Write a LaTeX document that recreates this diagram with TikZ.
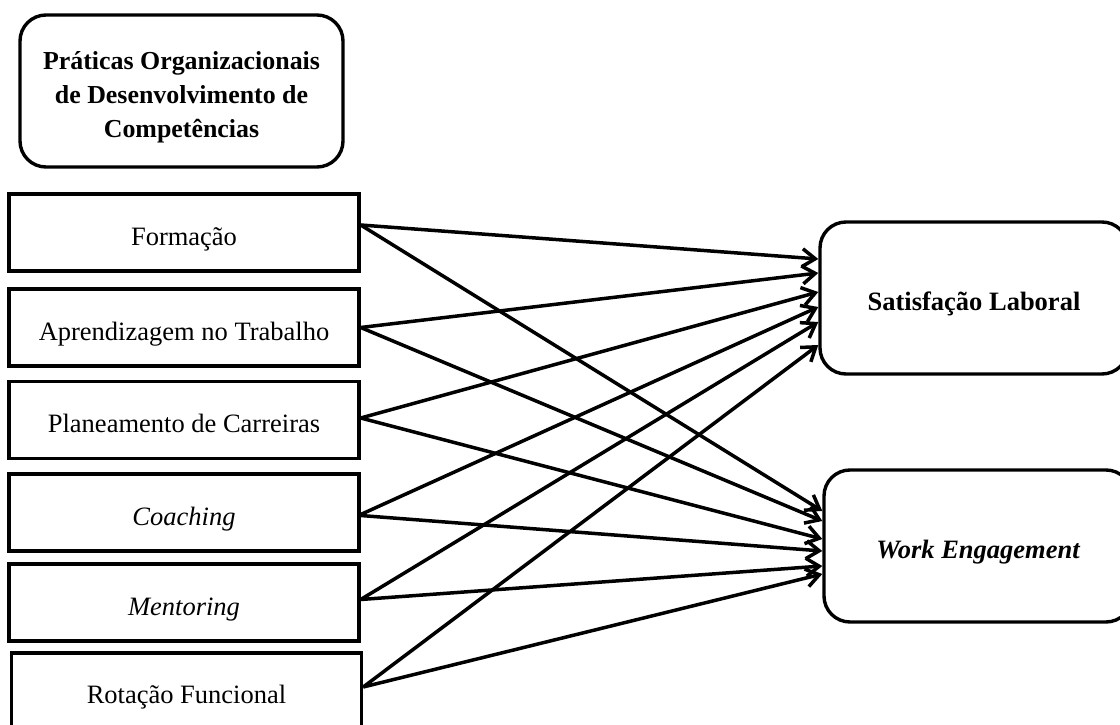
\documentclass[tikz,border=0pt]{standalone}
\usepackage{fontspec}
\setmainfont{Liberation Serif}
\usetikzlibrary{arrows.meta}
\begin{document}
\begin{tikzpicture}[x=1pt,y=-1pt,
  box/.style={draw,line width=3.4pt,minimum width=350pt,minimum height=77pt,inner sep=0pt,
    font=\fontsize{26.5}{34}\selectfont,text height=25pt,text depth=0pt},
  rbox/.style={draw,line width=3.4pt,rounded corners=26pt,inner sep=0pt,
    font=\bfseries\fontsize{26.5}{34}\selectfont},
  tbox/.style={rbox,minimum width=308pt,minimum height=152pt,text height=25pt,text depth=0pt},
  conn/.style={line width=3.5pt,-{Straight Barb[length=13pt,width=18pt]}}]
\useasboundingbox (0,0) rectangle (1120,725);

\node[rbox,minimum width=323pt,minimum height=152pt,align=center,
  font=\bfseries\fontsize{25.9}{34}\selectfont] (title) at (181.5,91)
  {\rule{0pt}{31pt}Práticas Organizacionais\\de Desenvolvimento de\\Competências};

\node[box] (form) at (184,232.5) {Formação};
\node[box] (appr) at (184,327.5) {Aprendizagem no Trabalho};
\node[box] (plan) at (184,420) {Planeamento de Carreiras};
\node[box] (coach) at (184,512.5) {\itshape Coaching};
\node[box] (ment) at (184,602.5) {\itshape Mentoring};
\node[box,minimum height=76pt] (rot) at (186.5,691) {Rotação Funcional};

\node[tbox] (sat) at (974,298) {Satisfação Laboral};
\node[tbox] (we) at (978,546) {\itshape Work Engagement};

% to Satisfacao Laboral
\draw[conn] ([yshift=7.5pt]form.east) -- (sat.west |- 0,259);
\draw[conn] (appr.east) -- (sat.west |- 0,273);
\draw[conn] ([yshift=2pt]plan.east) -- (sat.west |- 0,292);
\draw[conn] ([yshift=-2pt]coach.east) -- (sat.west |- 0,307);
\draw[conn] ([yshift=3pt]ment.east) -- (sat.west |- 0,322);
\draw[conn] ([yshift=4pt]rot.east) -- (sat.west |- 0,345);

% to Work Engagement
\draw[conn] ([yshift=7.5pt]form.east) -- (we.west |- 0,511);
\draw[conn] (appr.east) -- (we.west |- 0,521);
\draw[conn] ([yshift=2pt]plan.east) -- (we.west |- 0,539);
\draw[conn] ([yshift=-3pt]coach.east) -- (we.west |- 0,551);
\draw[conn] ([yshift=3pt]ment.east) -- (we.west |- 0,566);
\draw[conn] ([yshift=4pt]rot.east) -- (we.west |- 0,574);
\end{tikzpicture}
\end{document}
